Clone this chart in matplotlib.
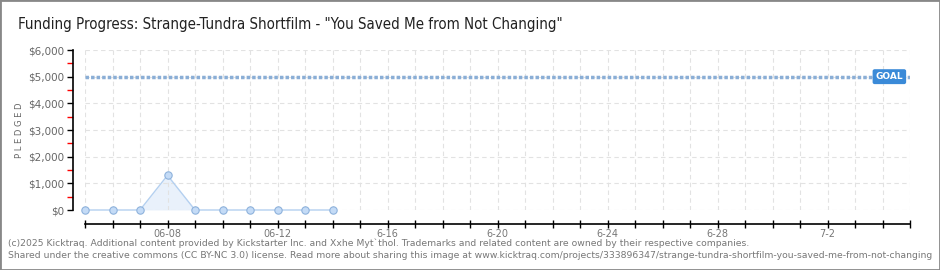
import matplotlib
matplotlib.use("Agg")
import matplotlib.pyplot as plt
import matplotlib.dates as mdates
from matplotlib.patches import Rectangle
import numpy as np
import datetime as dt

# données
dates = [dt.date(2025, 6, d) for d in range(5, 15)]
pledged = [0, 0, 0, 1300, 0, 0, 0, 0, 0, 0]
goal = 5000
x_start = dt.date(2025, 6, 5)
x_end = dt.date(2025, 7, 5)
tick_labels = {dt.date(2025, 6, 8): "06-08", dt.date(2025, 6, 12): "06-12",
               dt.date(2025, 6, 16): "6-16", dt.date(2025, 6, 20): "6-20",
               dt.date(2025, 6, 24): "6-24", dt.date(2025, 6, 28): "6-28",
               dt.date(2025, 7, 2): "7-2"}

title = 'Funding Progress: Strange-Tundra Shortfilm - "You Saved Me from Not Changing"'
footer1 = "(c)2025 Kicktraq. Additional content provided by Kickstarter Inc. and Xxhe Myt`thol. Trademarks and related content are owned by their respective companies."
footer2 = "Shared under the creative commons (CC BY-NC 3.0) license. Read more about sharing this image at www.kicktraq.com/projects/333896347/strange-tundra-shortfilm-you-saved-me-from-not-changing"

fig = plt.figure(figsize=(9.4, 2.7), dpi=100)
ax = fig.add_axes([85 / 940, 60 / 270, 825 / 940, 160 / 270])

x = mdates.date2num(dates)
ax.fill_between(x, pledged, 0, color="#e4eefa", alpha=0.8, lw=0)
ax.plot(x, pledged, color="#b4d0f0", lw=1, marker="o", ms=5.3,
        mfc="#c4dbf6", mec="#8eb2dc", mew=0.8, clip_on=False, zorder=3)

ax.axhline(goal, color="#8aaed6", lw=2.5, ls=(0, (1, 0.6)), zorder=2)
ax.text(mdates.date2num(dt.date(2025, 7, 4)) + 0.25, goal, "GOAL", color="white",
        fontsize=6.5, fontweight="bold", va="center", ha="center",
        bbox=dict(boxstyle="round,pad=0.25,rounding_size=0.15", fc="#3a8ad8", ec="#3a8ad8"),
        zorder=4)

ax.set_xlim(mdates.date2num(x_start), mdates.date2num(x_end))
ax.set_ylim(0, 6000)

days = mdates.drange(dt.datetime(2025, 6, 5), dt.datetime(2025, 7, 6), dt.timedelta(days=1))
ax.set_xticks(days)
ax.set_xticklabels([tick_labels.get(mdates.num2date(d).date(), "") for d in days])
ax.set_yticks(np.arange(0, 6001, 1000))
ax.set_yticklabels(["$0", "$1,000", "$2,000", "$3,000", "$4,000", "$5,000", "$6,000"])
ax.set_yticks(np.arange(500, 6000, 1000), minor=True)

ax.grid(True, color="#e2e2e2", ls=(0, (4, 3)), lw=0.8)
for s in ["top", "right"]:
    ax.spines[s].set_visible(False)
ax.spines["left"].set_position(("outward", 9))
ax.spines["bottom"].set_position(("outward", 10))
ax.spines["left"].set_linewidth(1.2)
ax.spines["bottom"].set_linewidth(1.2)
ax.tick_params(axis="x", direction="inout", length=6, width=1, labelsize=7,
               labelcolor="#777", pad=1)
ax.tick_params(axis="y", which="major", direction="out", length=4, width=1,
               labelsize=7.5, labelcolor="#666", pad=2)
ax.tick_params(axis="y", which="minor", direction="out", length=4, width=1, color="red")
ax.set_ylabel("P L E D G E D", fontsize=6, color="#666", labelpad=3)

fig.text(18 / 940, 1 - 24 / 270, title, fontsize=10.8, color="#222", va="center",
         fontstretch="condensed")
fig.text(8 / 940, 1 - 243 / 270, footer1, fontsize=6.7, color="#777", va="center")
fig.text(8 / 940, 1 - 256 / 270, footer2, fontsize=6.7, color="#777", va="center")

fig.patches.append(Rectangle((0, 0), 1, 1, transform=fig.transFigure, fill=False,
                             ec="#888", lw=2))

fig.savefig("out.png", dpi=100)
